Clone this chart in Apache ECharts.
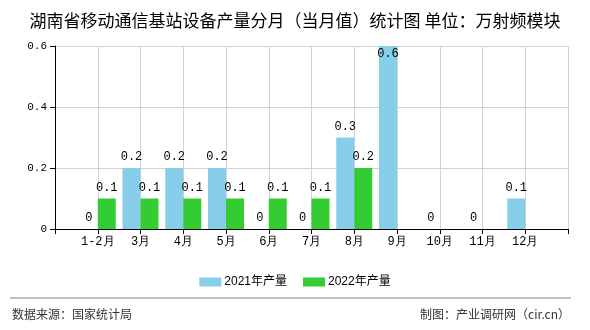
<!DOCTYPE html>
<html>
<head>
<meta charset="utf-8">
<script src="https://cdn.jsdelivr.net/npm/echarts@6/dist/echarts.min.js"></script>
<style>
html,body{margin:0;padding:0;background:#fff;}
#chart{width:590px;height:330px;}
</style>
</head>
<body>
<div id="chart"></div>
<script>
const titleText = '湖南省移动通信基站设备产量分月（当月值）统计图 单位：万射频模块';
const categories = ['1-2月','3月','4月','5月','6月','7月','8月','9月','10月','11月','12月'];
const seriesNames = ['2021年产量','2022年产量'];
const values2021 = [0, 0.2, 0.2, 0.2, 0, 0, 0.3, 0.6, 0, 0, 0.1];
const values2022 = [0.1, 0.1, 0.1, 0.1, 0.1, 0.1, 0.2, null, null, null, null];
const yTicks = [0, 0.2, 0.4, 0.6];
const sourceText = '数据来源：国家统计局';
const creditText = '制图：产业调研网（cir.cn）';

const yMin = yTicks[0], yMax = yTicks[yTicks.length-1], yStep = yTicks[1]-yTicks[0];
// axis has an empty slot before the first and after the last category
const axisCats = [''].concat(categories, ['']);
const monoFont = '"Liberation Mono", "DejaVu Sans Mono", monospace';
function buildData(vals){
  const out = [null];
  vals.forEach(v => {
    if (v === null) { out.push(null); return; }
    const item = {value: v};
    if (v >= yMax) item.label = {position: 'insideTop', distance: 2};
    out.push(item);
  });
  out.push(null);
  return out;
}
const colors = ['#87CEEB', '#33CC33'];
const chart = echarts.init(document.getElementById('chart'), null, {renderer:'canvas'});
chart.setOption({
  animation: false,
  backgroundColor: '#fff',
  title: {
    text: titleText, left: 'center', top: 7,
    textStyle: {fontSize: 17, fontWeight: 'normal', color: '#000', fontFamily: '"Noto Sans CJK SC", sans-serif'}
  },
  legend: {
    data: seriesNames, left: 'center', top: 271,
    itemWidth: 22, itemHeight: 9, itemGap: 16,
    icon: 'rect',
    textStyle: {fontSize: 12, color: '#000', fontFamily: 'Arial, "Liberation Sans", "Noto Sans CJK SC", sans-serif', padding: [0,0,0,-2]}
  },
  grid: {left: 55, right: 22, top: 46, bottom: 101, containLabel: false},
  xAxis: {
    type: 'category', data: axisCats, boundaryGap: false,
    axisLine: {lineStyle: {color: '#000', width: 1}},
    axisTick: {show: true, interval: 0, length: 5, lineStyle: {color: '#000'}},
    axisLabel: {interval: 0, color: '#000', fontSize: 12, margin: 7, fontFamily: monoFont},
    splitLine: {show: true, interval: 0, lineStyle: {color: '#d3d3d3', width: 1}}
  },
  yAxis: {
    type: 'value', min: yMin, max: yMax, interval: yStep,
    axisLine: {show: true, lineStyle: {color: '#000', width: 1}},
    axisTick: {show: true, length: 5, lineStyle: {color: '#000'}},
    axisLabel: {color: '#000', fontSize: 11, margin: 8, fontFamily: monoFont,
      formatter: v => String(Math.round(v*10)/10)},
    splitLine: {show: true, lineStyle: {color: '#d3d3d3', width: 1}}
  },
  series: [
    {name: seriesNames[0], type: 'bar', data: buildData(values2021), barWidth: 18, barGap: '0%',
     itemStyle: {color: colors[0]},
     label: {show: true, position: 'top', distance: 5, color: '#000', fontSize: 12, fontFamily: monoFont}},
    {name: seriesNames[1], type: 'bar', data: buildData(values2022), barWidth: 18, barGap: '0%',
     itemStyle: {color: colors[1]},
     label: {show: true, position: 'top', distance: 5, color: '#000', fontSize: 12, fontFamily: monoFont}}
  ],
  graphic: [
    {type: 'line', shape: {x1: 10, y1: 298, x2: 571, y2: 298}, style: {stroke: '#808080', lineWidth: 1}},
    {type: 'text', left: 12, top: 308, style: {text: sourceText, fontSize: 12, fill: '#333', fontFamily: '"Noto Sans CJK SC", sans-serif'}},
    {type: 'text', right: 20, top: 308, style: {text: creditText, fontSize: 12, fill: '#333', fontFamily: '"Noto Sans CJK SC", sans-serif'}}
  ]
});
</script>
</body>
</html>
